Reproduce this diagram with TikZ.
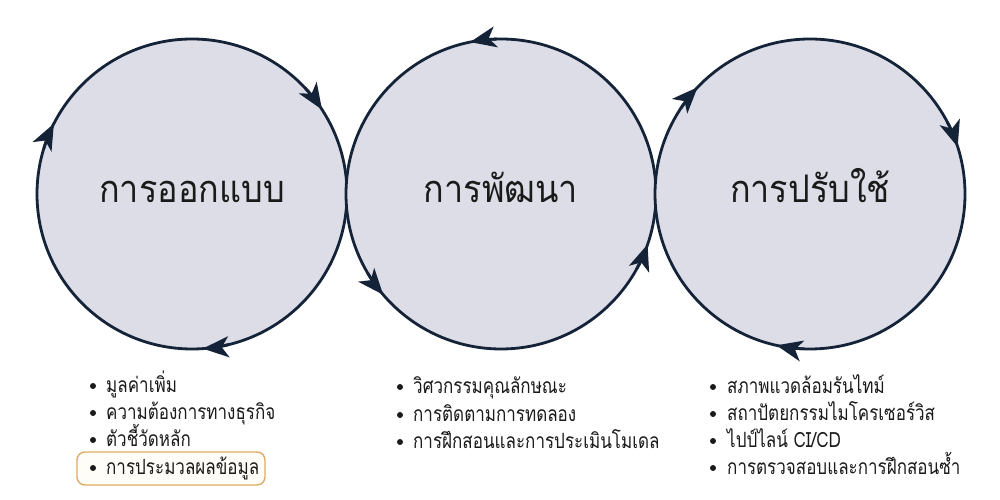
\documentclass[tikz,border=0pt]{standalone}
\usepackage{fontspec}
\usetikzlibrary{arrows.meta}
\newfontfamily\thainarrow[Script=Thai,FakeStretch=0.81]{Loma}
\newfontfamily\thaititle[Script=Thai,FakeStretch=0.9]{Loma}
\definecolor{cfill}{RGB}{220,221,230}
\definecolor{cline}{RGB}{21,35,56}
\definecolor{ctext}{RGB}{26,26,26}
\definecolor{hlline}{RGB}{222,172,100}
\definecolor{hlfill}{RGB}{255,253,248}
\tikzset{
  phase/.style={circle, draw=cline, fill=cfill, line width=2.8pt, minimum size=310pt, inner sep=0pt},
  ttl/.style={font=\thaititle\fontsize{38}{44}\selectfont, text=ctext, anchor=base, inner sep=0pt},
  item/.style={font=\thainarrow\fontsize{21}{24}\selectfont, text=ctext, anchor=base west, inner sep=0pt},
  bul/.style={circle, fill=ctext, inner sep=0pt, minimum size=6pt},
  arrowline/.style={draw=cline, line width=2.8pt, -{Stealth[length=26pt, width=21pt, inset=7pt]}},
  hlbox/.style={draw=hlline, fill=hlfill, line width=1.4pt, rounded corners=8pt}
}
\begin{document}
\begin{tikzpicture}[x=1pt,y=1pt]
\useasboundingbox[fill=white] (0,0) rectangle (1000,500);
% circles
\node[phase] (c1) at (192,306) {};
\node[phase] (c2) at (501,306) {};
\node[phase] (c3) at (810,306) {};
% arrowheads on circles
\draw[arrowline] ([shift={(43:155)}]c1.center) arc[start angle=43, end angle=33, radius=155];
\draw[arrowline] ([shift={(163:155)}]c1.center) arc[start angle=163, end angle=153, radius=155];
\draw[arrowline] ([shift={(284:155)}]c1.center) arc[start angle=284, end angle=274, radius=155];
\draw[arrowline] ([shift={(91.5:155)}]c2.center) arc[start angle=91.5, end angle=101.5, radius=155];
\draw[arrowline] ([shift={(210.5:155)}]c2.center) arc[start angle=210.5, end angle=220.5, radius=155];
\draw[arrowline] ([shift={(331:155)}]c2.center) arc[start angle=331, end angle=341, radius=155];
\draw[arrowline] ([shift={(146.5:155)}]c3.center) arc[start angle=146.5, end angle=136.5, radius=155];
\draw[arrowline] ([shift={(27.7:155)}]c3.center) arc[start angle=27.7, end angle=17.7, radius=155];
\draw[arrowline] ([shift={(267.5:155)}]c3.center) arc[start angle=267.5, end angle=257.5, radius=155];
% titles
\node[ttl] (t1) at (192,297) {การออกแบบ};
\node[ttl] (t2) at (501,297) {การพัฒนา};
\node[ttl] (t3) at (810,297) {การปรับใช้};
% highlight box
\draw[hlbox] (77,15) rectangle (265,48);
% left list
\node[bul] (b11) at (93,114) {};
\node[item] (i11) at (106,107) {มูลค่าเพิ่ม};
\node[bul] (b12) at (93,87) {};
\node[item] (i12) at (106,80) {ความต้องการทางธุรกิจ};
\node[bul] (b13) at (93,60) {};
\node[item] (i13) at (106,53) {ตัวชี้วัดหลัก};
\node[bul] (b14) at (93,32) {};
\node[item] (i14) at (106,25) {การประมวลผลข้อมูล};
% middle list
\node[bul] (b21) at (400,113) {};
\node[item] (i21) at (413,106) {วิศวกรรมคุณลักษณะ};
\node[bul] (b22) at (400,85) {};
\node[item] (i22) at (413,78) {การติดตามการทดลอง};
\node[bul] (b23) at (400,58) {};
\node[item] (i23) at (413,51) {การฝึกสอนและการประเมินโมเดล};
% right list
\node[bul] (b31) at (713,113) {};
\node[item] (i31) at (727,106) {สภาพแวดล้อมรันไทม์};
\node[bul] (b32) at (713,86) {};
\node[item] (i32) at (727,79) {สถาปัตยกรรมไมโครเซอร์วิส};
\node[bul] (b33) at (713,59) {};
\node[item] (i33) at (727,52) {ไปป์ไลน์ CI/CD};
\node[bul] (b34) at (713,32) {};
\node[item] (i34) at (727,25) {การตรวจสอบและการฝึกสอนซ้ำ};
\end{tikzpicture}
\end{document}
